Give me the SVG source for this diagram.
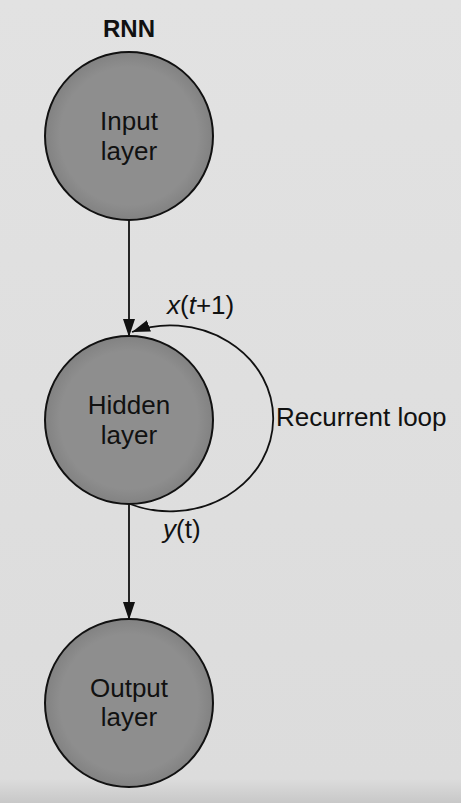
<svg xmlns="http://www.w3.org/2000/svg" width="461" height="803" viewBox="0 0 461 803">
<defs>
<linearGradient id="bg" x1="0" y1="0" x2="0" y2="1">
<stop offset="0" stop-color="#e2e2e2"/>
<stop offset="0.97" stop-color="#dcdcdc"/>
<stop offset="1" stop-color="#c8c8c8"/>
</linearGradient>
<radialGradient id="cf" cx="0.5" cy="0.5" r="0.5">
<stop offset="0.82" stop-color="#8e8e8e"/>
<stop offset="1" stop-color="#828282"/>
</radialGradient>
<marker id="ah" markerUnits="userSpaceOnUse" markerWidth="20" markerHeight="14" viewBox="0 0 20 14" refX="18" refY="7" orient="auto">
<path d="M0,1 L18,7 L0,13 Z" fill="#111"/>
</marker>
</defs>
<style>
.node circle{fill:url(#cf);stroke:#111;stroke-width:2}
.lbl{font-family:"Liberation Sans",Arial,sans-serif;font-size:26px;fill:#111;text-anchor:middle}
.edge{fill:none;stroke:#111;stroke-width:1.8}
.t{font-family:"Liberation Sans",Arial,sans-serif;font-size:26px;fill:#111}
</style>
<rect width="461" height="803" fill="url(#bg)"/>
<text x="129" y="37" class="t" style="font-weight:bold;font-size:24px" text-anchor="middle">RNN</text>
<g id="connectors">
<line class="edge" x1="129" y1="220" x2="129" y2="337" marker-end="url(#ah)"/>
<line class="edge" x1="129" y1="505" x2="129" y2="620" marker-end="url(#ah)"/>
<path class="edge" d="M130,504 A103,93 0 1 0 132,332" marker-end="url(#ah)"/>
</g>
<g id="input-layer" class="node">
<circle cx="129" cy="136" r="84"/>
<text class="lbl" x="129" y="130">Input</text>
<text class="lbl" x="129" y="160">layer</text>
</g>
<g id="hidden-layer" class="node">
<circle cx="129" cy="420" r="84"/>
<text class="lbl" x="129" y="414">Hidden</text>
<text class="lbl" x="129" y="444">layer</text>
</g>
<g id="output-layer" class="node">
<circle cx="129" cy="703" r="84"/>
<text class="lbl" x="129" y="697">Output</text>
<text class="lbl" x="129" y="726">layer</text>
</g>
<g id="labels">
<text class="t" x="167" y="314"><tspan font-style="italic">x</tspan>(<tspan font-style="italic">t</tspan>+1)</text>
<text class="t" x="276" y="426">Recurrent loop</text>
<text class="t" x="163" y="538"><tspan font-style="italic">y</tspan>(t)</text>
</g>
</svg>
